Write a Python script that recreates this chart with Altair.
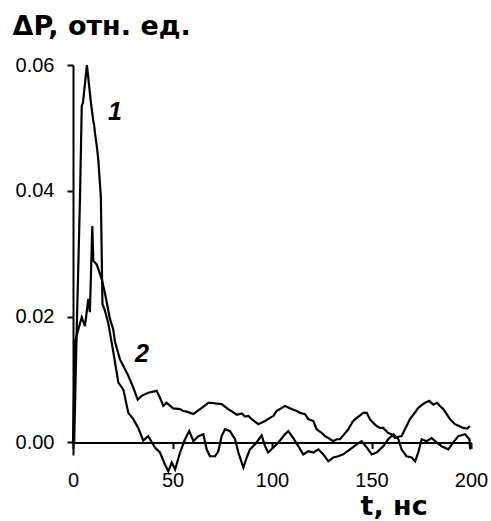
import altair as alt
import pandas as pd

# Curve 1 (tall peak)
t1 = [0.0, 0.6, 1.8, 3.5, 4.4, 5.0, 7.0, 8.0, 9.0, 10.2, 10.6, 11.0, 12.0, 12.7, 14.0,
      14.8, 16.0, 17.7, 20.3, 22.8, 25.3, 27.8, 30.3, 32.8, 35.3, 37.8, 41.2, 43.7,
      46.2, 47.9, 49.6, 51.3, 53.8, 56.3, 58.4, 60.5, 63.0, 65.5, 67.2, 68.8, 71.4,
      73.0, 74.7, 76.4, 78.9, 81.4, 83.1, 85.6, 87.3, 88.9, 91.5, 94.8, 96.5, 98.1,
      100.7, 103.2, 106.5, 108.2, 110.7, 113.2, 115.7, 118.2, 120.8, 123.3, 125.8,
      128.3, 130.8, 133.3, 135.8, 139.2, 142.6, 145.0, 147.6, 150.1, 152.6, 155.9,
      158.4, 161.0, 163.5, 165.1, 167.6, 170.2, 171.9, 173.5, 175.2, 177.7, 180.2,
      182.7, 185.2, 188.6, 191.1, 193.6, 197.0, 199.2, 199.6]
v1 = [0.0, 0.0, 0.017, 0.0387, 0.0535, 0.054, 0.060, 0.057, 0.054, 0.0511, 0.0505,
      0.0493, 0.047, 0.045, 0.039, 0.022, 0.021, 0.019, 0.0143, 0.0095, 0.0084,
      0.0047, 0.0037, 0.0023, 0.0003, 0.001, -0.0008, -0.0016, -0.0035, -0.0046,
      -0.0032, -0.0043, -0.0016, 0.0005, 0.0018, 0.0002, 0.001, 0.0013, -0.0011,
      -0.0022, -0.0022, -0.0014, 0.001, 0.0021, 0.0018, 0.0005, -0.0016, -0.004,
      -0.0024, -0.0011, -0.0003, 0.0011, -0.0006, -0.0016, -0.0008, 0.0, 0.0013,
      0.0018, 0.0007, -0.0006, -0.0019, -0.0014, -0.0016, -0.0011, -0.0019, -0.003,
      -0.0024, -0.0022, -0.0019, -0.0011, -0.0003, 0.0002, -0.0008, -0.0019, -0.0016,
      -0.0006, 0.0005, 0.0013, 0.0005, -0.0011, -0.0022, -0.0024, -0.003, -0.0016,
      0.0005, 0.0002, 0.0007, 0.0, -0.0006, -0.0011, 0.0, 0.001, 0.0013, 0.0005,
      -0.0011]

# Curve 2 (lower peak, slower decay)
t2 = [0.0, 1.0, 2.7, 4.4, 6.0, 7.7, 8.5, 9.7, 10.2, 11.9, 14.4, 16.0, 18.6, 20.2,
      21.1, 23.6, 27.8, 30.3, 32.5, 34.5, 37.8, 42.0, 43.7, 45.4, 47.0, 50.4, 53.8,
      55.4, 57.1, 60.5, 64.7, 68.0, 69.7, 71.4, 74.7, 78.0, 80.0, 82.3, 84.8, 86.5,
      88.1, 89.8, 93.1, 96.5, 99.0, 100.7, 102.3, 104.0, 106.5, 109.9, 112.4, 114.1,
      116.6, 118.2, 120.8, 122.4, 125.0, 126.6, 128.3, 130.8, 132.5, 134.2, 136.0,
      138.4, 140.5, 142.6, 145.9, 147.6, 149.2, 150.9, 152.6, 154.3, 155.9, 158.4,
      160.0, 161.8, 163.5, 165.1, 167.0, 169.3, 171.5, 173.5, 175.5, 177.0, 179.0,
      181.1, 183.0, 184.4, 186.1, 187.8, 189.4, 191.9, 194.0, 196.1, 198.0, 199.5]
v2 = [0.0, 0.016, 0.018, 0.0199, 0.0185, 0.0228, 0.0207, 0.0344, 0.0289, 0.0283,
      0.026, 0.0238, 0.0196, 0.018, 0.016, 0.0132, 0.0106, 0.0087, 0.0068, 0.0074,
      0.0079, 0.0082, 0.0071, 0.0058, 0.0063, 0.0054, 0.0053, 0.005, 0.0049, 0.0045,
      0.0055, 0.0063, 0.0063, 0.0062, 0.0061, 0.0053, 0.0049, 0.0044, 0.0046, 0.0041,
      0.0042, 0.0037, 0.0029, 0.0034, 0.0039, 0.0042, 0.005, 0.0053, 0.0058, 0.0053,
      0.005, 0.0047, 0.0045, 0.0037, 0.0034, 0.0021, 0.0015, 0.001, 0.0007, 0.0002,
      0.0005, 0.0005, 0.0012, 0.0021, 0.0033, 0.0039, 0.0047, 0.0047, 0.0037, 0.0031,
      0.0026, 0.0023, 0.0023, 0.0015, 0.0013, 0.0007, 0.0009, 0.001, 0.0022, 0.0037,
      0.0046, 0.0055, 0.006, 0.0063, 0.0066, 0.006, 0.0063, 0.0058, 0.0053, 0.0045,
      0.0037, 0.0029, 0.0026, 0.0023, 0.0022, 0.0026]

# Curve labels
label_text = ["1", "2"]
label_t = [21.1, 34.7]
label_v = [0.0525, 0.0140]

x_ticks = [0, 50, 100, 150, 200]
y_ticks = [0.0, 0.02, 0.04, 0.06]

rows = []
for i, (t, v) in enumerate(zip(t1, v1)):
    rows.append({"t": t, "v": v, "series": "1", "idx": i})
for i, (t, v) in enumerate(zip(t2, v2)):
    rows.append({"t": t, "v": v, "series": "2", "idx": i})
df = pd.DataFrame(rows)
lab = pd.DataFrame({"t": label_t, "v": label_v, "text": label_text})

W, H = 398, 390
YMIN, YMAX = -0.002, 0.06
zero_offset = -(H - H * YMAX / (YMAX - YMIN))

xscale = alt.Scale(domain=[0, 200], nice=False, zero=False)
yscale = alt.Scale(domain=[YMIN, YMAX], nice=False, zero=False)

xaxis = alt.Axis(values=x_ticks, format="d", grid=False, offset=zero_offset,
                 domainColor="black", domainWidth=2, tickColor="black", tickWidth=2,
                 tickSize=6, labelFont="Liberation Sans", labelFontSize=20,
                 labelColor="black", labelPadding=22, labelFlush=False,
                 title="t, нс", titleFont="DejaVu Sans", titleFontSize=27,
                 titleFontWeight="bold", titleColor="black", titleAlign="left",
                 titleBaseline="alphabetic", titleX=287, titleY=72)
yaxis = alt.Axis(values=y_ticks, format=".2f", grid=False,
                 domainColor="black", domainWidth=2, tickColor="black", tickWidth=2,
                 tickSize=6, labelFont="Liberation Sans", labelFontSize=20,
                 labelColor="black", labelPadding=13, labelFlush=False,
                 title="ΔP, отн. ед.", titleFont="DejaVu Sans", titleFontSize=27,
                 titleFontWeight="bold", titleColor="black", titleAngle=0,
                 titleAlign="left", titleBaseline="alphabetic", titleX=-61, titleY=-31)

lines = alt.Chart(df).mark_line(color="black", strokeWidth=2.2).encode(
    x=alt.X("t:Q", scale=xscale, axis=xaxis),
    y=alt.Y("v:Q", scale=yscale, axis=yaxis),
    detail="series:N",
    order="idx:Q",
)

labels = alt.Chart(lab).mark_text(
    font="Liberation Sans", fontSize=25, fontWeight="bold", fontStyle="italic",
    color="black", align="center", baseline="middle"
).encode(
    x=alt.X("t:Q", scale=xscale),
    y=alt.Y("v:Q", scale=yscale),
    text="text:N",
)

chart = alt.layer(lines, labels).properties(
    width=W, height=H,
    autosize=alt.AutoSizeParams(type="none"),
    padding={"left": 73, "top": 65, "right": 20, "bottom": 521 - 65 - H},
).configure_view(stroke=None)

chart.save("out.html", embed_options={"renderer": "svg", "actions": False})
